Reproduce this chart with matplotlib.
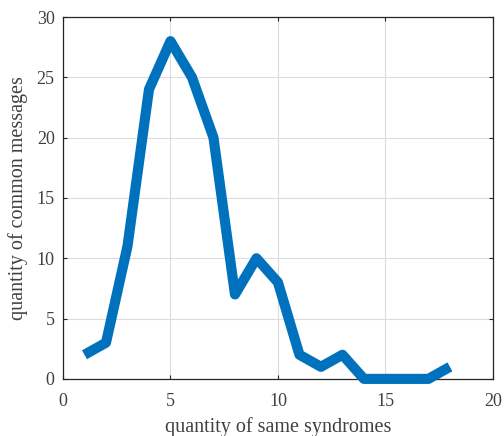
import matplotlib
matplotlib.use("Agg")
import matplotlib.pyplot as plt

x = [1, 2, 3, 4, 5, 6, 7, 8, 9, 10, 11, 12, 13, 14, 15, 16, 17, 18]
y = [2, 3, 11, 24, 28, 25, 20, 7, 10, 8, 2, 1, 2, 0, 0, 0, 0, 1]
xticks = [0, 5, 10, 15, 20]
yticks = [0, 5, 10, 15, 20, 25, 30]

plt.rcParams['font.family'] = ['Liberation Serif', 'DejaVu Serif']
fig = plt.figure(figsize=(5.04, 4.36), dpi=100)
ax = fig.add_axes([0.125, 0.131, 0.853, 0.830])
ax.plot(x, y, color='#0072BD', linewidth=7.3, solid_joinstyle='round',
        solid_capstyle='butt', zorder=3, clip_on=False)
ax.set_xlim(0, 20)
ax.set_ylim(0, 30)
ax.set_xticks(xticks)
ax.set_yticks(yticks)
ax.grid(True, color='#dcdcdc', linewidth=0.8)
ax.set_axisbelow(True)
ax.tick_params(direction='in', top=True, right=True, length=3, width=0.8,
               labelsize=13, colors='#262626', labelcolor='#404040')
ax.tick_params(axis='x', pad=10)
ax.tick_params(axis='y', pad=6)
for s in ax.spines.values():
    s.set_color('#262626')
    s.set_linewidth(0.9)
ax.set_xlabel('quantity of same syndromes', fontsize=14.5, color='#404040', labelpad=5)
ax.set_ylabel('quantity of common messages', fontsize=14.5, color='#404040')
ax.yaxis.set_label_coords(-0.081, 0.5)
fig.savefig('out.png', dpi=100)
